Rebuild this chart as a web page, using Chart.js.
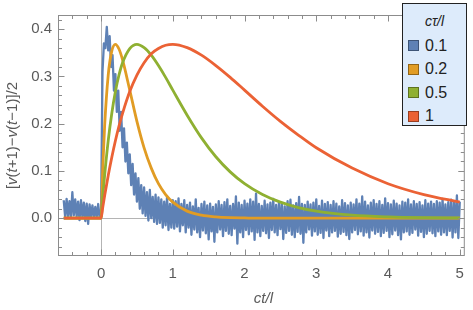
<!DOCTYPE html>
<html>
<head>
<meta charset="utf-8">
<script src="https://cdn.jsdelivr.net/npm/chart.js@4.4.1/dist/chart.umd.min.js"></script>
<style>
  body { margin: 0; background: #fff; }
  #wrap { position: relative; width: 473px; height: 310px; }
  #legend {
    position: absolute; left: 402px; top: 3px; width: 65px; height: 123px;
    background: #ddebfb; border: 1px solid #222; box-sizing: border-box;
    font-family: "Liberation Sans", Arial, sans-serif; color: #222;
  }
  #legend .ttl { text-align: center; font-style: italic; font-size: 14px; margin-top: 9px; height: 21px; }
  #legend .row { display: flex; align-items: center; height: 23.5px; font-size: 16px; }
  #legend .sw { width: 11px; height: 11px; margin-left: 5px; margin-right: 6px; box-sizing: border-box; }
</style>
</head>
<body>
<div id="wrap">
  <canvas id="chart"></canvas>
  <div id="legend"></div>
</div>
<script>
// parameter values shown in the legend
const tauLabels = ["0.1", "0.2", "0.5", "1"];
const seriesColors = ["#5e81b5", "#e19c24", "#8fb032", "#eb6235"];

// noisy series (cτ/l = 0.1), sampled every 0.02 from t = -0.52
const blueT0 = -0.52;
const blueDt = 0.02;
const blueV = [
  // t = -0.52 .. -0.02
  0.038, 0.002, 0.041, 0.004, 0.036, 0.001, 0.055, 0.006, 0.040, 0.003,
  0.035, -0.004, 0.038, 0.002, 0.033, -0.006, 0.031, -0.012, 0.029, 0.003,
  0.027, 0.001, 0.024, 0.002, 0.030, 0.001,
  // t = 0 .. 1.00
  0.005, 0.31, 0.37, 0.36, 0.405, 0.355, 0.385, 0.32, 0.345, 0.27,
  0.305, 0.225, 0.27, 0.185, 0.225, 0.15, 0.19, 0.12, 0.16, 0.095,
  0.135, 0.07, 0.115, 0.05, 0.095, 0.035, 0.085, 0.02, 0.07, 0.01,
  0.065, 0.005, 0.055, -0.005, 0.06, 0.0, 0.045, -0.008, 0.05, -0.012,
  0.044, -0.01, 0.04, -0.02, 0.035, -0.015, 0.046, -0.025, 0.03, -0.02,
  0.038,
  // t = 1.02 .. 5.00
  -0.022, 0.036, -0.018, 0.042, -0.028, 0.03, -0.015, 0.038, -0.03, 0.028,
  -0.02, 0.033, -0.035, 0.025, -0.024, 0.04, -0.03, 0.022, -0.04, 0.03,
  -0.026, 0.035, -0.032, 0.027, -0.045, 0.031, -0.028, 0.024, -0.05, 0.029,
  -0.03, 0.036, -0.024, 0.028, -0.038, 0.034, -0.027, 0.04, -0.033, 0.026,
  -0.036, 0.03, -0.022, 0.046, -0.054, 0.033, -0.03, 0.028, -0.04, 0.037,
  -0.025, 0.031, -0.034, 0.04, -0.028, 0.035, -0.046, 0.052, -0.03, 0.03,
  -0.038, 0.026, -0.027, 0.037, -0.032, 0.029, -0.042, 0.033, -0.025, 0.041,
  -0.03, 0.028, -0.036, 0.034, -0.023, 0.031, -0.044, 0.025, -0.031, 0.036,
  -0.027, 0.039, -0.035, 0.027, -0.04, 0.032, -0.029, 0.045, -0.033, 0.03,
  -0.052, 0.028, -0.03, 0.035, -0.024, 0.029, -0.037, 0.033, -0.028, 0.04,
  -0.035, 0.026, -0.031, 0.037, -0.042, 0.03, -0.026, 0.034, -0.038, 0.028,
  -0.03, 0.036, -0.027, 0.031, -0.039, 0.025, -0.033, 0.038, -0.029, 0.032,
  -0.036, 0.027, -0.044, 0.033, -0.03, 0.029, -0.025, 0.04, -0.034, 0.031,
  -0.028, 0.046, -0.037, 0.035, -0.03, 0.027, -0.041, 0.033, -0.026, 0.038,
  -0.033, 0.03, -0.029, 0.036, -0.038, 0.028, -0.031, 0.042, -0.027, 0.032,
  -0.04, 0.029, -0.034, 0.037, -0.026, 0.031, -0.036, 0.027, -0.045, 0.035,
  -0.03, 0.033, -0.028, 0.04, -0.035, 0.029, -0.031, 0.036, -0.024, 0.03,
  -0.037, 0.034, -0.029, 0.027, -0.04, 0.038, -0.033, 0.031, -0.027, 0.035,
  -0.032, 0.03, -0.038, 0.036, -0.028, 0.033, -0.035, 0.041, -0.03, 0.029,
  -0.036, 0.034, -0.027, 0.039, -0.041, 0.036, -0.03, 0.048, -0.042, 0.035
];

// smooth series, read at these t values
const smoothT = [-0.52, 0, 0.025, 0.05, 0.1, 0.15, 0.2, 0.25, 0.3, 0.4, 0.5, 0.6, 0.7, 0.8, 0.9,
  1.0, 1.2, 1.4, 1.6, 1.8, 2.0, 2.25, 2.5, 2.75, 3.0, 3.5, 4.0, 4.5, 5.0];
const orangeV = [0, 0, 0.110, 0.195, 0.303, 0.354, 0.368, 0.358, 0.335, 0.271, 0.205, 0.149, 0.106, 0.073, 0.050,
  0.034, 0.015, 0.0064, 0.0027, 0.0011, 0.0005, 0, 0, 0, 0, 0, 0, 0, 0];
const greenV = [0, 0, 0.0476, 0.0905, 0.164, 0.222, 0.268, 0.303, 0.329, 0.359, 0.368, 0.361, 0.345, 0.323, 0.298,
  0.271, 0.218, 0.170, 0.130, 0.098, 0.073, 0.050, 0.034, 0.0225, 0.015, 0.0064, 0.0027, 0.0011, 0.0005];
const redV = [0, 0, 0.0244, 0.0476, 0.0905, 0.129, 0.164, 0.195, 0.222, 0.268, 0.303, 0.329, 0.348, 0.359, 0.366,
  0.368, 0.361, 0.345, 0.323, 0.298, 0.271, 0.237, 0.205, 0.176, 0.149, 0.106, 0.073, 0.050, 0.034];

const xTicks = [0, 1, 2, 3, 4, 5];
const yTicks = [0, 0.1, 0.2, 0.3, 0.4];

const FONT = '"Liberation Sans", Arial, sans-serif';

const bluePts = blueV.map((v, i) => ({ x: +(blueT0 + i * blueDt).toFixed(2), y: v }));
const toPts = vals => vals.map((v, i) => ({ x: smoothT[i], y: v }));

// frame, inward ticks, zero lines and axis labels (Mathematica style)
const framePlugin = {
  id: "frame",
  beforeDatasetsDraw(chart) {
    const { ctx, chartArea: a, scales: { x, y } } = chart;
    ctx.save();
    ctx.strokeStyle = "#b4b4b4";
    ctx.lineWidth = 1;
    const x0 = Math.round(x.getPixelForValue(0)) + 0.5;
    const y0 = Math.round(y.getPixelForValue(0)) + 0.5;
    ctx.beginPath();
    ctx.moveTo(x0, a.top); ctx.lineTo(x0, a.bottom);
    ctx.moveTo(a.left, y0); ctx.lineTo(a.right, y0);
    ctx.stroke();
    ctx.restore();
  },
  afterDraw(chart) {
    const { ctx, chartArea: a, scales: { x, y } } = chart;
    ctx.save();
    ctx.strokeStyle = "#8c8c8c";
    ctx.lineWidth = 1;
    const L = a.left + 0.5, R = a.right - 0.5, T = a.top + 0.5, B = a.bottom - 0.5;
    ctx.strokeRect(L, T, R - L, B - T);
    ctx.beginPath();
    // x ticks every 0.2
    for (let k = -3; k <= 25; k++) {
      const v = k / 5;
      const px = Math.round(x.getPixelForValue(v)) + 0.5;
      if (px < a.left || px > a.right) continue;
      const len = k % 5 === 0 ? 6 : 3.5;
      ctx.moveTo(px, B); ctx.lineTo(px, B - len);
      ctx.moveTo(px, T); ctx.lineTo(px, T + len);
    }
    // y ticks every 0.02
    for (let k = -4; k <= 21; k++) {
      const v = k / 50;
      const py = Math.round(y.getPixelForValue(v)) + 0.5;
      if (py < a.top || py > a.bottom) continue;
      const len = k % 5 === 0 ? 6 : 3.5;
      ctx.moveTo(L, py); ctx.lineTo(L + len, py);
      ctx.moveTo(R, py); ctx.lineTo(R - len, py);
    }
    ctx.stroke();

    // x axis title
    ctx.fillStyle = "#5a5a5a";
    ctx.font = "italic 15px " + FONT;
    ctx.textAlign = "center";
    ctx.textBaseline = "middle";
    ctx.fillText("ct/l", (a.left + a.right) / 2 + 2, 299);

    // y axis title with italic variables
    const parts = [["[", 0], ["v", 1], ["(", 0], ["t", 1], ["+1)\u2212", 0], ["v", 1], ["(", 0], ["t", 1], ["\u22121)]/2", 0]];
    const fontOf = it => (it ? "italic " : "") + "15px " + FONT;
    let total = 0;
    parts.forEach(([s, it]) => { ctx.font = fontOf(it); total += ctx.measureText(s).width; });
    ctx.translate(13, (a.top + a.bottom) / 2);
    ctx.rotate(-Math.PI / 2);
    ctx.textAlign = "left";
    let cx = -total / 2;
    parts.forEach(([s, it]) => {
      ctx.font = fontOf(it);
      ctx.fillText(s, cx, 0);
      cx += ctx.measureText(s).width;
    });
    ctx.restore();
  }
};

const datasets = [
  { label: tauLabels[0], data: bluePts, borderColor: seriesColors[0], borderWidth: 2.3, order: 4 },
  { label: tauLabels[1], data: toPts(orangeV), borderColor: seriesColors[1], borderWidth: 2.8, cubicInterpolationMode: "monotone", order: 3 },
  { label: tauLabels[2], data: toPts(greenV), borderColor: seriesColors[2], borderWidth: 2.8, cubicInterpolationMode: "monotone", order: 2 },
  { label: tauLabels[3], data: toPts(redV), borderColor: seriesColors[3], borderWidth: 2.8, cubicInterpolationMode: "monotone", order: 1 }
].map(d => Object.assign({ pointRadius: 0, fill: false, borderJoinStyle: "round" }, d));

new Chart(document.getElementById("chart"), {
  type: "line",
  data: { datasets },
  options: {
    responsive: true,
    maintainAspectRatio: false,
    animation: false,
    layout: { padding: { left: 0, top: 1, right: 5, bottom: 0 } },
    plugins: { legend: { display: false }, tooltip: { enabled: false } },
    scales: {
      x: {
        type: "linear", min: -0.6, max: 5.07,
        grid: { display: false, drawTicks: false },
        border: { display: false },
        afterBuildTicks: s => { s.ticks = xTicks.map(v => ({ value: v })); },
        afterFit: s => { s.height = 54; },
        ticks: { color: "#5a5a5a", font: { family: FONT, size: 15 }, padding: 9, maxRotation: 0, callback: v => String(v) }
      },
      y: {
        type: "linear", min: -0.08, max: 0.43,
        grid: { display: false, drawTicks: false },
        border: { display: false },
        afterBuildTicks: s => { s.ticks = yTicks.map(v => ({ value: v })); },
        afterFit: s => { s.width = 58; },
        ticks: { color: "#5a5a5a", font: { family: FONT, size: 15 }, padding: 6, callback: v => v.toFixed(1) }
      }
    }
  },
  plugins: [framePlugin]
});

// legend box
const legend = document.getElementById("legend");
legend.innerHTML = '<div class="ttl">c\u03c4/l</div>' + tauLabels.map((t, i) =>
  `<div class="row"><span class="sw" style="background:${seriesColors[i]};border:1px solid rgba(0,0,0,0.35)"></span>${t}</div>`
).join("");
</script>
</body>
</html>
